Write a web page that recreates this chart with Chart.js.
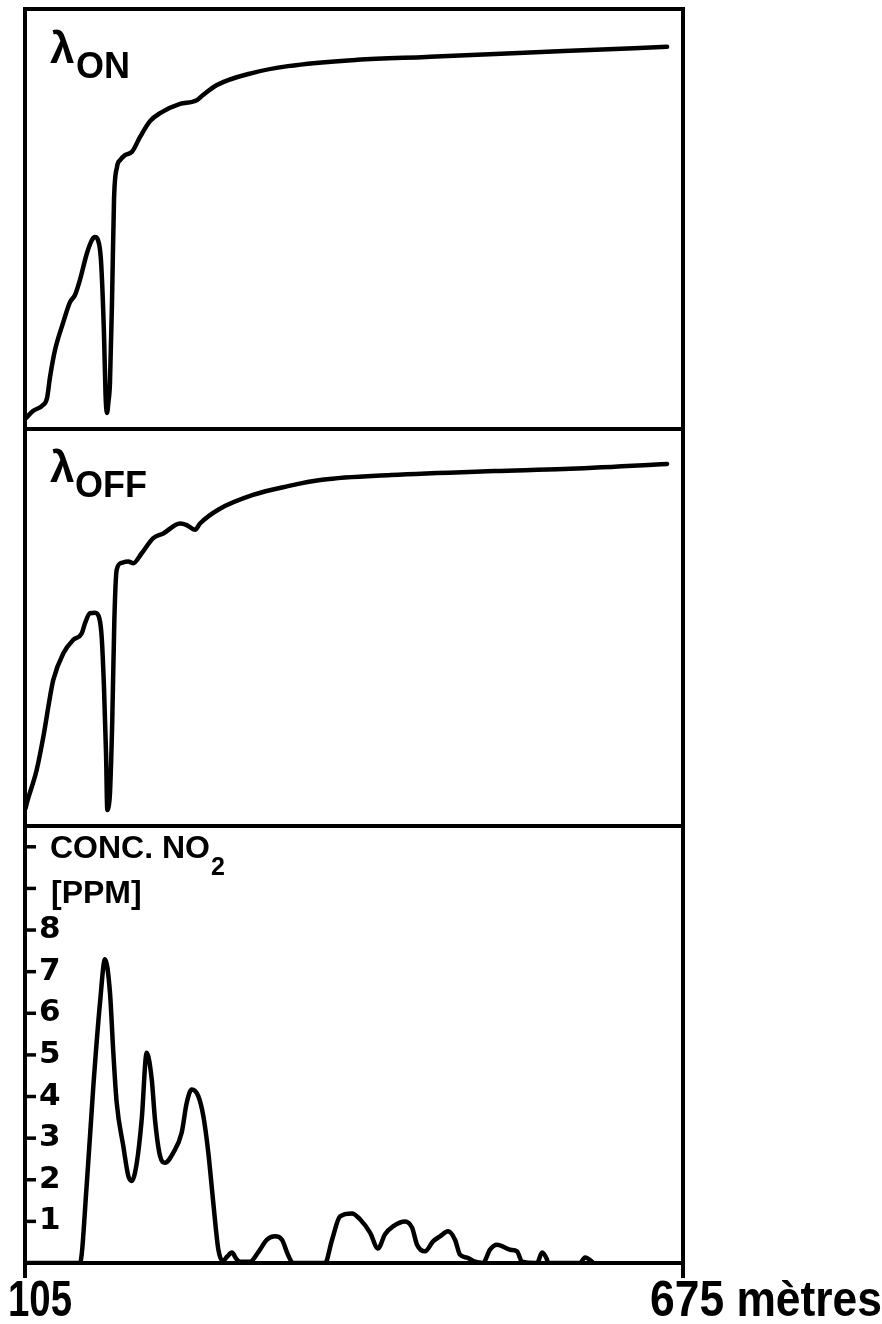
<!DOCTYPE html>
<html><head><meta charset="utf-8">
<script src="https://cdn.jsdelivr.net/npm/chart.js@4"></script>
<style>
html,body{margin:0;padding:0;background:#fff;}
#wrap{position:relative;width:882px;height:1324px;overflow:hidden;background:#fff;}
canvas{position:absolute;left:0;}
</style></head><body>
<div id="wrap">
<canvas id="c1" width="882" height="440" style="top:0px"></canvas>
<canvas id="c2" width="882" height="420" style="top:420px"></canvas>
<canvas id="c3" width="882" height="509" style="top:815px"></canvas>
</div>
<script>
// ---- data (distance in metres) ----
const onX  = [105.5,111.9,120.6,124.1,126.7,131.0,137.9,144.0,148.3,152.6,158.7,163.0,165.6,168.2,170.8,173.4,174.8,176.0,177.3,178.6,180.4,182.1,184.7,187.3,191.6,197.7,204.6,213.3,222.0,239.3,249.7,254.0,259.2,271.3,302.5,332.8,392.6,452.4,512.2,571.9,661.2];
const onY  = [2.5,4.3,5.7,7.4,12.4,18.8,25.2,30.2,31.9,35.5,41.9,45.0,45.7,45.0,40.2,22.9,8.0,3.8,6.5,11.0,30.7,54.5,62.4,64.0,65.2,66.0,69.5,73.3,75.2,77.4,77.9,78.3,79.5,81.9,84.8,86.4,87.9,88.6,89.3,90.0,91.0];

const offX = [105.5,106.5,115.1,120.9,126.7,129.5,138.2,146.8,154.1,157.0,161.3,165.6,169.4,171.4,173.4,175.2,176.3,177.5,178.6,180.6,182.4,184.4,188.8,194.5,198.8,206.1,216.1,224.8,239.3,245.1,252.3,256.6,273.1,302.5,332.8,362.3,422.1,512.2,571.9,661.2];
const offY = [4.5,5.7,14.1,22.5,32.6,36.8,43.5,46.9,48.5,51.1,53.6,53.7,52.3,47.7,35.1,18.3,4.0,5.0,8.2,26.7,51.9,64.5,66.3,66.6,66.2,68.7,72.5,73.7,76.2,75.8,74.6,76.2,79.8,83.4,85.6,87.2,88.4,89.4,89.9,91.2];

const no2X = [105,152.6,158.4,164.2,170.0,174.3,178.6,181.5,184.4,190.2,194.5,197.4,201.8,206.1,210.4,214.8,217.6,222.0,226.3,233.5,240.7,245.1,249.4,255.1,259.5,263.8,268.1,272.5,276.3,280.0,284.3,288.0,291.3,299.9,306.8,314.6,321.6,327.6,332.8,337.2,364.9,371.0,377.9,388.3,395.2,403.9,410.8,416.9,423.8,434.2,440.3,444.6,451.5,458.5,464.5,471.4,477.5,481.8,487.9,494.8,501.8,507.8,513.9,525.2,531.2,535.6,548.6,552.9,557.2,558.1,585.8,590.1,596.2,597.1];
const no2Y = [0,0,1.85,4.25,6.26,7.3,6.5,5.06,3.86,2.8,2.09,1.97,2.4,3.45,5.05,4.41,3.45,2.57,2.41,2.65,3.13,3.85,4.17,4.01,3.53,2.65,1.45,0.32,0.05,0.15,0.25,0.1,0.03,0.03,0.25,0.56,0.64,0.56,0.2,0,0,0.56,1.12,1.19,1.05,0.73,0.35,0.69,0.88,1.0,0.85,0.44,0.28,0.52,0.64,0.76,0.56,0.2,0.13,0.03,0,0.32,0.44,0.32,0.28,0.03,0,0.25,0.08,0,0,0.13,0.03,0];

const xTickValues = [105, 675];
const xTickLabels = ['105', '675 mètres'];
const yTickValues = [0,1,2,3,4,5,6,7,8,9,10];
const yTickLabels = ['', '1','2','3','4','5','6','7','8','',''];

const xMin = 105, xMax = 675;

// ---- helpers ----
function pts(xs, ys){ return xs.map((x,i)=>({x:x, y:ys[i]})); }

const framePlugin = {
  id: 'frame',
  afterDatasetsDraw(chart) {
    const {ctx, chartArea: a} = chart;
    ctx.save();
    ctx.strokeStyle = '#000';
    ctx.lineWidth = 4;
    ctx.strokeRect(a.left, a.top, a.right - a.left, a.bottom - a.top);
    ctx.restore();
  }
};

const labelPlugin = {
  id: 'panelLabels',
  afterDraw(chart, args, opts) {
    const {ctx, chartArea: a} = chart;
    ctx.save();
    ctx.fillStyle = '#000';
    ctx.textAlign = 'left';
    ctx.textBaseline = 'alphabetic';
    (opts.items || []).forEach(it => {
      ctx.font = it.font;
      ctx.fillText(it.text, a.left + it.dx, a.top + it.dy);
    });
    ctx.restore();
  }
};

const axisMarksPlugin = {
  id: 'axisMarks',
  afterDraw(chart, args, opts) {
    if (!opts.enabled) return;
    const {ctx, chartArea: a, scales} = chart;
    ctx.save();
    ctx.strokeStyle = '#000';
    ctx.fillStyle = '#000';
    ctx.lineWidth = 3.5;
    // y tick marks (inside)
    scales.y.ticks.forEach(t => {
      if (t.value <= 0) return;
      const y = scales.y.getPixelForValue(t.value);
      ctx.beginPath(); ctx.moveTo(a.left, y); ctx.lineTo(a.left + 11, y); ctx.stroke();
    });
    // x tick marks (below) and labels
    ctx.lineWidth = 4;
    ctx.textAlign = 'left';
    ctx.textBaseline = 'alphabetic';
    xTickValues.forEach((v, i) => {
      const x = scales.x.getPixelForValue(v);
      ctx.beginPath(); ctx.moveTo(x, a.bottom); ctx.lineTo(x, a.bottom + 15); ctx.stroke();
      ctx.font = 'bold 50px "Liberation Sans Narrow", "Liberation Sans", sans-serif';
      const off = opts.labelOffsets[i];
      ctx.fillText(xTickLabels[i], x + off, a.bottom + 53, opts.maxWidths[i]);
    });
    ctx.restore();
  }
};

function makeChart(id, data, yMin, yMax, padding, labels, bottom) {
  const yScale = {
    type: 'linear', min: yMin, max: yMax, display: false
  };
  if (bottom) {
    Object.assign(yScale, {
      display: true,
      position: 'left',
      grid: { display: false },
      border: { display: false },
      ticks: {
        includeBounds: false,
        mirror: true,
        padding: 14,
        color: '#000',
        font: { family: "'DejaVu Sans'", weight: 'bold', size: 31 },
        callback: (value, index) => {
          const k = yTickValues.indexOf(value);
          return k >= 0 ? yTickLabels[k] : '';
        }
      },
      afterBuildTicks: (s) => { s.ticks = yTickValues.map(v => ({value: v})); },
      afterFit: (s) => { s.width = 0; s.paddingTop = 0; s.paddingBottom = 0; }
    });
  }
  return new Chart(document.getElementById(id), {
    type: 'line',
    data: {
      datasets: [{
        data: data,
        borderColor: '#000',
        borderWidth: 4.5,
        pointRadius: 0,
        fill: false,
        cubicInterpolationMode: 'monotone',
        borderCapStyle: 'round',
        borderJoinStyle: 'round'
      }]
    },
    options: {
      responsive: false,
      animation: false,
      devicePixelRatio: 1,
      layout: { padding: padding },
      scales: {
        x: { type: 'linear', min: xMin, max: xMax, display: false },
        y: yScale
      },
      plugins: {
        legend: { display: false },
        tooltip: { enabled: false },
        panelLabels: { items: labels },
        axisMarks: bottom ? { enabled: true, labelOffsets: [-17, -33], maxWidths: [64, 232] } : { enabled: false }
      }
    },
    plugins: [framePlugin, labelPlugin, axisMarksPlugin]
  });
}

makeChart('c1', pts(onX, onY), 0, 100, {left: 25, right: 199, top: 9, bottom: 11}, [
  { text: 'λ', font: 'bold 44px "Liberation Sans", sans-serif', dx: 25, dy: 54 },
  { text: 'ON', font: 'bold 36px "Liberation Sans", sans-serif', dx: 51, dy: 69 }
], false);

makeChart('c2', pts(offX, offY), 0, 100, {left: 25, right: 199, top: 9, bottom: 14}, [
  { text: 'λ', font: 'bold 44px "Liberation Sans", sans-serif', dx: 25, dy: 53 },
  { text: 'OFF', font: 'bold 36px "Liberation Sans", sans-serif', dx: 50, dy: 68 }
], false);

makeChart('c3', pts(no2X, no2Y), 0, 10.5, {left: 25, right: 199, top: 11, bottom: 61}, [
  { text: 'CONC. NO', font: 'bold 32px "Liberation Sans", sans-serif', dx: 25, dy: 32 },
  { text: '2', font: 'bold 25px "Liberation Sans", sans-serif', dx: 186, dy: 49 },
  { text: '[PPM]', font: 'bold 32px "Liberation Sans", sans-serif', dx: 26, dy: 77 }
], true);
</script>
</body></html>
